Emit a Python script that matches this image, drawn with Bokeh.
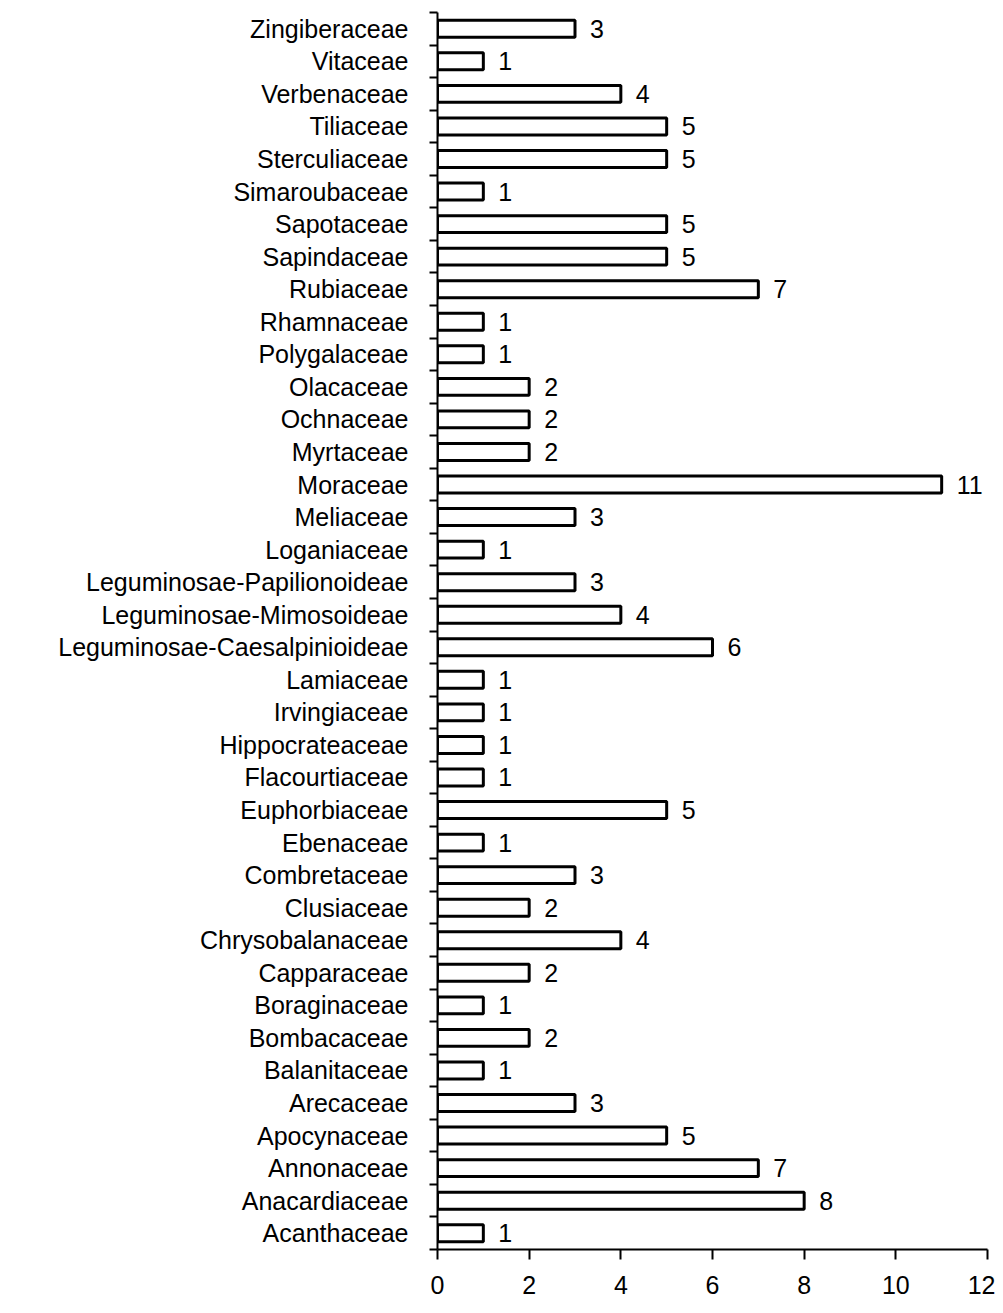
from bokeh.plotting import figure
from bokeh.models import Range1d, FixedTicker, ColumnDataSource
from bokeh.core.properties import value
from bokeh.embed import file_html
from bokeh.resources import INLINE

families = ["Acanthaceae", "Anacardiaceae", "Annonaceae", "Apocynaceae", "Arecaceae",
            "Balanitaceae", "Bombacaceae", "Boraginaceae", "Capparaceae", "Chrysobalanaceae",
            "Clusiaceae", "Combretaceae", "Ebenaceae", "Euphorbiaceae", "Flacourtiaceae",
            "Hippocrateaceae", "Irvingiaceae", "Lamiaceae", "Leguminosae-Caesalpinioideae",
            "Leguminosae-Mimosoideae", "Leguminosae-Papilionoideae", "Loganiaceae", "Meliaceae",
            "Moraceae", "Myrtaceae", "Ochnaceae", "Olacaceae", "Polygalaceae", "Rhamnaceae",
            "Rubiaceae", "Sapindaceae", "Sapotaceae", "Simaroubaceae", "Sterculiaceae",
            "Tiliaceae", "Verbenaceae", "Vitaceae", "Zingiberaceae"]
counts = [1, 8, 7, 5, 3, 1, 2, 1, 2, 4, 2, 3, 1, 5, 1, 1, 1, 1, 6, 4, 3, 1, 3, 11,
          2, 2, 2, 1, 1, 7, 5, 5, 1, 5, 5, 4, 1, 3]
x_ticks = [0, 2, 4, 6, 8, 10, 12]

n = len(families)
pos = list(range(n))
src = ColumnDataSource(dict(y=pos, v=counts, lab=[str(c) for c in counts]))

FONT = "Liberation Sans"

p = figure(width=995, height=1305, output_backend="svg", toolbar_location=None,
           x_range=Range1d(0, 12), y_range=Range1d(-0.5, n - 0.5))
p.min_border_left = 437
p.min_border_right = 8
p.min_border_top = 12
p.min_border_bottom = 56
p.outline_line_color = None
p.xgrid.grid_line_color = None
p.ygrid.grid_line_color = None
p.background_fill_color = "white"
p.border_fill_color = "white"

p.hbar(y="y", right="v", left=0, height=0.52, source=src,
       fill_color="white", line_color="black", line_width=3)
p.text(x="v", y="y", text="lab", source=src, x_offset=15,
       text_baseline="middle", text_align="left",
       text_font=value(FONT), text_font_size="25px", text_color="black")

xa = p.xaxis[0]
xa.ticker = FixedTicker(ticks=x_ticks)
xa.axis_line_width = 2
xa.axis_line_color = "black"
xa.major_tick_line_width = 2
xa.major_tick_out = 10
xa.major_tick_in = 0
xa.minor_tick_line_color = None
xa.major_label_text_font = FONT
xa.major_label_text_font_size = "25px"
xa.major_label_text_color = "black"
xa.major_label_standoff = 16

ya = p.yaxis[0]
ya.ticker = FixedTicker(ticks=pos, minor_ticks=[i - 0.5 for i in range(n + 1)])
ya.major_label_overrides = {i: f for i, f in enumerate(families)}
ya.axis_line_width = 2
ya.axis_line_color = "black"
ya.major_tick_line_color = None
ya.major_tick_out = 0
ya.major_tick_in = 0
ya.minor_tick_line_color = "black"
ya.minor_tick_line_width = 2
ya.minor_tick_out = 8
ya.minor_tick_in = 0
ya.major_label_text_font = FONT
ya.major_label_text_font_size = "25px"
ya.major_label_text_color = "black"
ya.major_label_standoff = 21

open("out.html", "w").write(file_html(p, INLINE))
